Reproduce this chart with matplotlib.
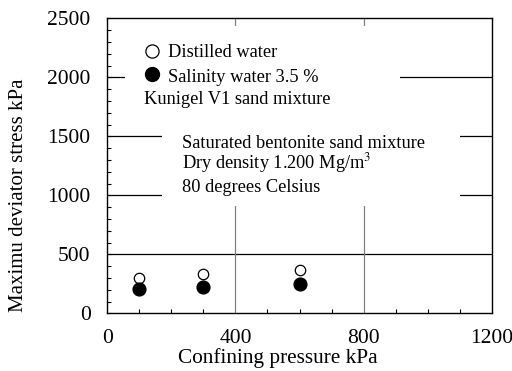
import numpy as np
import matplotlib.pyplot as plt
from matplotlib.patches import Rectangle
from matplotlib.ticker import MultipleLocator

plt.rcParams['font.family'] = ['Liberation Serif', 'DejaVu Serif']
plt.rcParams['mathtext.fontset'] = 'stix'

# confining pressure (kPa) and peak deviator stress (kPa)
pressure = [100, 300, 600]
stress_distilled = [300, 330, 370]
stress_saline = [203, 223, 252]

fig = plt.figure(figsize=(5.12, 3.71), dpi=100)
ax = fig.add_axes([107.3 / 512, 1 - 313.3 / 371, 384.4 / 512, 295 / 371])

ax.set_xlim(0, 1200)
ax.set_ylim(0, 2500)
ax.xaxis.set_major_locator(MultipleLocator(400))
ax.xaxis.set_minor_locator(MultipleLocator(100))
ax.yaxis.set_major_locator(MultipleLocator(500))
ax.yaxis.set_minor_locator(MultipleLocator(100))
ax.tick_params(which='both', direction='in', length=3, width=0.8, labelsize=15.5)
ax.tick_params(axis='y', which='major', pad=12)
ax.tick_params(axis='x', which='major', pad=11, length=0)
for s in ax.spines.values():
    s.set_linewidth(1.0)

# grid lines
for y in [500, 1000, 1500, 2000]:
    ax.axhline(y, color='black', lw=0.9, zorder=0)
for x in [400, 800]:
    ax.axvline(x, color='#808080', lw=0.9, zorder=0)

# white panels behind the notes
ax.add_patch(Rectangle((0.046, 0.625), 0.715, 0.349, transform=ax.transAxes,
                       facecolor='white', edgecolor='none', zorder=1))
ax.add_patch(Rectangle((0.142, 0.364), 0.776, 0.265, transform=ax.transAxes,
                       facecolor='white', edgecolor='none', zorder=1))

ax.plot(pressure, stress_distilled, 'o', ms=7.5, mfc='white', mec='black', mew=0.9,
        zorder=3, clip_on=False)
ax.plot(pressure, stress_saline, 'o', ms=9.2, mfc='black', mec='black',
        zorder=3, clip_on=False)

# legend rows
ax.plot([0.116], [0.889], 'o', ms=9.5, mfc='white', mec='black', mew=0.9,
        transform=ax.transAxes, zorder=3)
ax.plot([0.116], [0.811], 'o', ms=10, mfc='black', mec='black',
        transform=ax.transAxes, zorder=3)

notes = [
    (0.158, 0.870, 'Distilled water'),
    (0.158, 0.785, 'Salinity water 3.5 %'),
    (0.095, 0.709, 'Kunigel V1 sand mixture'),
    (0.194, 0.559, 'Saturated bentonite sand mixture'),
    (0.194, 0.492, 'Dry density 1.200 Mg/m$^3$'),
    (0.194, 0.412, '80 degrees Celsius'),
]
for x, y, s in notes:
    ax.text(x, y, s, transform=ax.transAxes, fontsize=13.2,
            va='baseline', ha='left', zorder=4)

ax.set_xlabel('Confining pressure kPa', fontsize=15.3)
ax.set_ylabel('Maximu deviator stress kPa', fontsize=15)
ax.xaxis.set_label_coords(0.443, -0.118)
ax.yaxis.set_label_coords(-0.205, 0.401)

fig.savefig('out.png', dpi=100)
